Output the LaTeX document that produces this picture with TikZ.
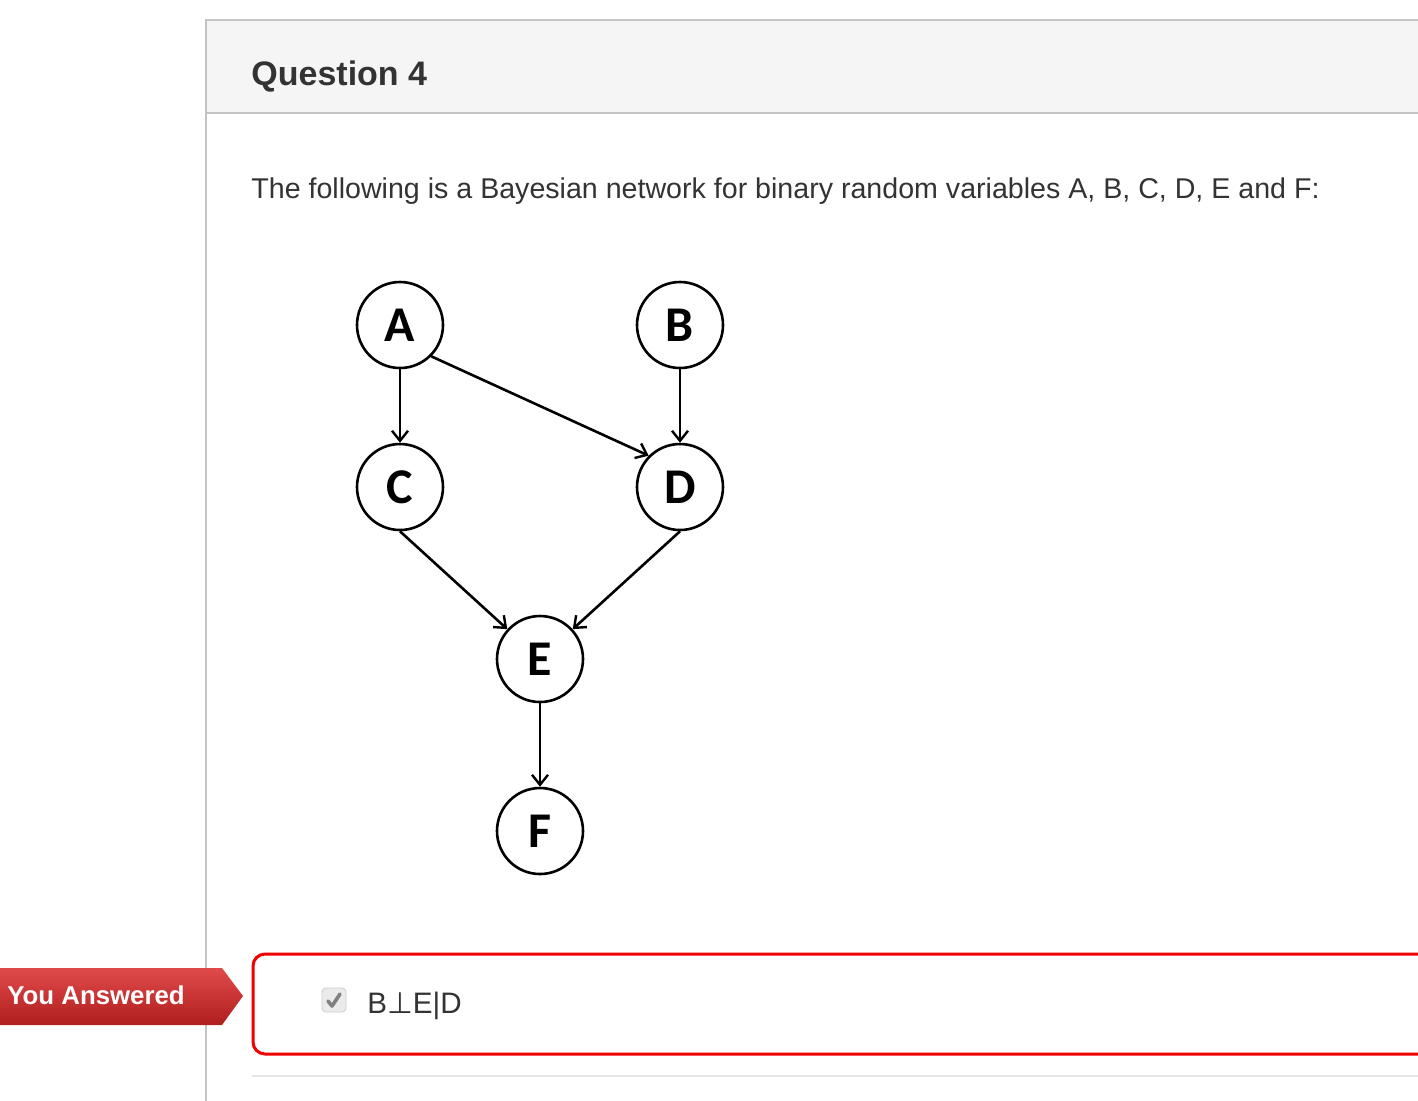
\documentclass[tikz,border=0pt]{standalone}
\usepackage{fontspec}
\setmainfont{Liberation Sans}
\newfontfamily\carlito{Carlito}
\newfontfamily\dejavu{DejaVu Sans}
\usetikzlibrary{arrows.meta,shapes.geometric,calc}
\definecolor{panelgray}{HTML}{C4C4C4}
\definecolor{headfill}{HTML}{F5F5F5}
\definecolor{txt}{HTML}{333333}
\definecolor{redbox}{HTML}{F00000}
\definecolor{bannertop}{HTML}{E04A4A}
\definecolor{bannerbot}{HTML}{B01E1E}
\tikzset{
  bnode/.style={circle,draw=black,line width=1.3pt,minimum size=43pt,inner sep=0pt,font=\carlito\bfseries\fontsize{25}{25}\selectfont},
  edge/.style={line width=1.3pt,-{Straight Barb[length=5pt,width=8pt,line width=1.2pt]}},
  bodytext/.style={anchor=base west,inner sep=0pt,text=txt}
}
\begin{document}
\begin{tikzpicture}[x=0.5pt,y=-0.5pt]
\useasboundingbox (0,0) rectangle (1418,1100);
\fill[white] (0,0) rectangle (1418,1100);
% panel
\fill[headfill] (206,20) rectangle (1420,113);
\draw[panelgray,line width=1pt] (1420,20) -- (206,20) -- (206,1102);
\draw[panelgray,line width=1pt] (206,113) -- (1420,113);
\node[bodytext,font=\bfseries\fontsize{17}{17}\selectfont] (title) at (251,85) {Question 4};
\node[bodytext,font=\fontsize{14.3}{14.3}\selectfont] (body) at (251,198) {The following is a Bayesian network for binary random variables A, B, C, D, E and F:};
% network
\node[bnode] (A) at (400,325) {A};
\node[bnode] (B) at (680,325) {B};
\node[bnode] (C) at (400,487) {C};
\node[bnode] (D) at (680,487) {D};
\node[bnode] (E) at (540,659) {E};
\node[bnode] (F) at (540,831) {F};
\draw[edge] (A) -- (C);
\draw[edge] (A.south east) -- (D.north west);
\draw[edge] (B) -- (D);
\draw[edge] (C.south) -- (E);
\draw[edge] (D.south) -- (E);
\draw[edge] (E) -- (F);
% banner
\shade[top color=bannertop,bottom color=bannerbot] (0,968) -- (222,968) -- (243,996) -- (222,1025) -- (0,1025) -- cycle;
\node[bodytext,text=white,font=\bfseries\fontsize{12.9}{12.9}\selectfont] (banner) at (7,1004) {You Answered};
% answer box
\draw[redbox,line width=1.5pt,rounded corners=6pt] (1440,954) -- (253,954) -- (253,1054) -- (1440,1054);
\node[draw=black!20,fill=black!8,rounded corners=2pt,minimum size=12pt,inner sep=0pt] (chk) at (334,1000) {};
\draw[black!50,line width=1.8pt,line cap=round,line join=round] ($(chk.center)+(-6,1)$) -- ($(chk.center)+(-2,6)$) -- ($(chk.center)+(6,-6)$);
\node[bodytext,font=\fontsize{14.8}{14.8}\selectfont] (ans) at (367,1013) {B{\dejavu ⊥}E|D};
\draw[black!10,line width=0.8pt] (252,1076) -- (1420,1076);
\end{tikzpicture}
\end{document}
